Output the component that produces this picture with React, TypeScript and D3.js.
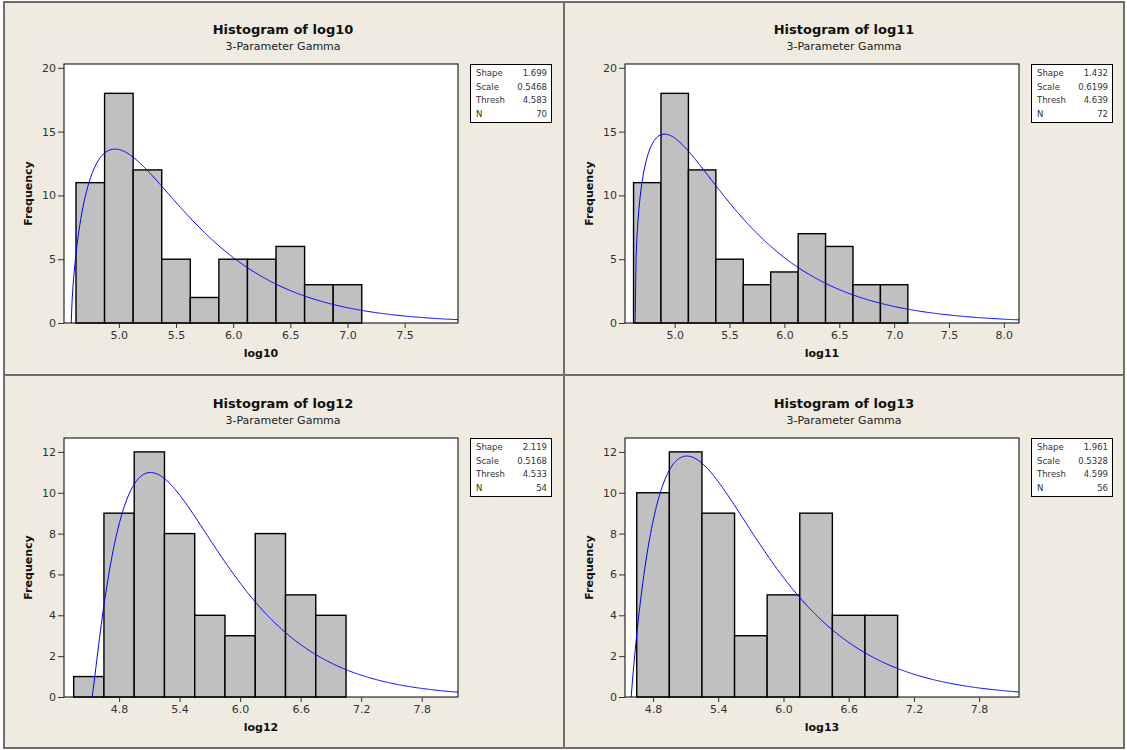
import React, { useEffect, useRef } from 'react';
import * as d3 from 'd3';

// one entry per panel, in reading order
const variables = ['log10', 'log11', 'log12', 'log13'];

const countsLog10 = [11, 18, 12, 5, 2, 5, 5, 6, 3, 3];
const countsLog11 = [11, 18, 12, 5, 3, 4, 7, 6, 3, 3];
const countsLog12 = [1, 9, 12, 8, 4, 3, 8, 5, 4];
const countsLog13 = [10, 12, 9, 3, 5, 9, 4, 4];
const counts = [countsLog10, countsLog11, countsLog12, countsLog13];

const binStart = [4.625, 4.625, 4.35, 4.65];
const binWidth = [0.25, 0.25, 0.3, 0.3];

// fitted 3-parameter gamma
const shapes = [1.699, 1.432, 2.119, 1.961];
const scales = [0.5468, 0.6199, 0.5168, 0.5328];
const threshs = [4.583, 4.639, 4.533, 4.599];
const nObs = [70, 72, 54, 56];
const shapeLabels = ['1.699', '1.432', '2.119', '1.961'];
const scaleLabels = ['0.5468', '0.6199', '0.5168', '0.5328'];
const threshLabels = ['4.583', '4.639', '4.533', '4.599'];

const xDomains: [number, number][] = [
  [4.52, 7.967],
  [4.547, 8.138],
  [4.254, 8.16],
  [4.542, 8.167],
];
const xTicks = [
  [5.0, 5.5, 6.0, 6.5, 7.0, 7.5],
  [5.0, 5.5, 6.0, 6.5, 7.0, 7.5, 8.0],
  [4.8, 5.4, 6.0, 6.6, 7.2, 7.8],
  [4.8, 5.4, 6.0, 6.6, 7.2, 7.8],
];
const yMax = [20.3, 20.3, 12.68, 12.68];
const yTicks = [
  [0, 5, 10, 15, 20],
  [0, 5, 10, 15, 20],
  [0, 2, 4, 6, 8, 10, 12],
  [0, 2, 4, 6, 8, 10, 12],
];

const W = 1127;
const H = 750;
const FONT = '"DejaVu Sans", Verdana, sans-serif';

// Lanczos approximation
function gammaFn(z: number): number {
  const p = [
    0.99999999999980993, 676.5203681218851, -1259.1392167224028, 771.32342877765313,
    -176.61502916214059, 12.507343278686905, -0.13857109526572012, 9.9843695780195716e-6,
    1.5056327351493116e-7,
  ];
  if (z < 0.5) return Math.PI / (Math.sin(Math.PI * z) * gammaFn(1 - z));
  z -= 1;
  let x = p[0];
  for (let i = 1; i < 9; i++) x += p[i] / (z + i);
  const t = z + 7.5;
  return Math.sqrt(2 * Math.PI) * Math.pow(t, z + 0.5) * Math.exp(-t) * x;
}

const App: React.FC = () => {
  const svgRef = useRef<SVGSVGElement>(null);

  useEffect(() => {
    if (!svgRef.current) return;
    const svg = d3.select(svgRef.current);
    svg.selectAll('*').remove();

    // background + panel frames
    svg.append('rect').attr('width', W).attr('height', H).attr('fill', '#fff');
    const frames = [
      [4, 2, 560, 373],
      [564, 2, 560, 373],
      [4, 375, 560, 373],
      [564, 375, 560, 373],
    ];
    frames.forEach(([x, y, w, h]) => {
      svg.append('rect')
        .attr('x', x).attr('y', y).attr('width', w).attr('height', h)
        .attr('fill', '#efebe1')
        .attr('stroke', '#6e6e6e')
        .attr('stroke-width', 2);
    });

    const origins = [[0, 0], [561, 0], [0, 374], [561, 374]];
    const left = 64, right = 458, top = 64, bottom = 323;

    variables.forEach((name, i) => {
      const [ox, oy] = origins[i];
      const g = svg.append('g').attr('transform', `translate(${ox},${oy})`);

      const x = d3.scaleLinear().domain(xDomains[i]).range([left, right]);
      const y = d3.scaleLinear().domain([0, yMax[i]]).range([bottom, top]);

      // titles
      g.append('text')
        .attr('x', 283).attr('y', 34)
        .attr('text-anchor', 'middle')
        .attr('font-family', FONT).attr('font-weight', 'bold').attr('font-size', 13)
        .attr('fill', '#111')
        .text(`Histogram of ${name}`);
      g.append('text')
        .attr('x', 283).attr('y', 50)
        .attr('text-anchor', 'middle')
        .attr('font-family', FONT).attr('font-size', 11)
        .attr('fill', '#222')
        .text('3-Parameter Gamma');

      // plot area
      g.append('rect')
        .attr('x', left).attr('y', top)
        .attr('width', right - left).attr('height', bottom - top)
        .attr('fill', '#fff');

      const clipId = `clip-${i}`;
      g.append('clipPath').attr('id', clipId)
        .append('rect')
        .attr('x', left).attr('y', top)
        .attr('width', right - left).attr('height', bottom - top);

      // bars
      const w = binWidth[i];
      g.append('g')
        .selectAll('rect')
        .data(counts[i])
        .join('rect')
        .attr('x', (_, j) => x(binStart[i] + j * w))
        .attr('y', (d) => y(d))
        .attr('width', (_, j) => x(binStart[i] + (j + 1) * w) - x(binStart[i] + j * w))
        .attr('height', (d) => y(0) - y(d))
        .attr('fill', '#c0c0c0')
        .attr('stroke', '#000')
        .attr('stroke-width', 1.4);

      // fitted gamma density, scaled to counts
      const k = shapes[i], s = scales[i], th = threshs[i];
      const norm = nObs[i] * w / (gammaFn(k) * Math.pow(s, k));
      const xs = d3.range(0, 401).map((j) => th + ((xDomains[i][1] - th) * j) / 400);
      const line = d3.line<number>()
        .x((v) => x(v))
        .y((v) => {
          const z = v - th;
          const f = z <= 0 ? 0 : norm * Math.pow(z, k - 1) * Math.exp(-z / s);
          return y(f);
        });
      g.append('path')
        .datum(xs)
        .attr('d', line)
        .attr('fill', 'none')
        .attr('stroke', '#0000ff')
        .attr('stroke-width', 1)
        .attr('clip-path', `url(#${clipId})`);

      // frame
      g.append('rect')
        .attr('x', left).attr('y', top)
        .attr('width', right - left).attr('height', bottom - top)
        .attr('fill', 'none')
        .attr('stroke', '#000')
        .attr('stroke-width', 1);

      // y axis
      const yAxis = g.append('g')
        .attr('transform', `translate(${left},0)`)
        .call(d3.axisLeft(y).tickValues(yTicks[i]).tickSize(6).tickPadding(2).tickFormat(d3.format('d')));
      yAxis.select('.domain').remove();

      // x axis
      const xAxis = g.append('g')
        .attr('transform', `translate(0,${bottom})`)
        .call(d3.axisBottom(x).tickValues(xTicks[i]).tickSize(5).tickPadding(3).tickFormat(d3.format('.1f')));
      xAxis.select('.domain').remove();

      [yAxis, xAxis].forEach((ax) => {
        ax.selectAll('line').attr('stroke', '#333');
        ax.selectAll('text')
          .attr('font-family', FONT).attr('font-size', 11).attr('fill', '#333');
      });

      // axis titles
      g.append('text')
        .attr('transform', `translate(32,${(top + bottom) / 2}) rotate(-90)`)
        .attr('text-anchor', 'middle')
        .attr('font-family', FONT).attr('font-weight', 'bold').attr('font-size', 11)
        .attr('fill', '#111')
        .text('Frequency');
      g.append('text')
        .attr('x', (left + right) / 2).attr('y', 357)
        .attr('text-anchor', 'middle')
        .attr('font-family', FONT).attr('font-weight', 'bold').attr('font-size', 11)
        .attr('fill', '#111')
        .text(name);

      // parameter box
      const rows = [
        ['Shape', shapeLabels[i]],
        ['Scale', scaleLabels[i]],
        ['Thresh', threshLabels[i]],
        ['N', String(nObs[i])],
      ];
      g.append('rect')
        .attr('x', 470.5).attr('y', 64.5).attr('width', 81).attr('height', 58)
        .attr('fill', '#fff')
        .attr('stroke', '#000')
        .attr('stroke-width', 1);
      rows.forEach(([label, val], r) => {
        g.append('text')
          .attr('x', 476).attr('y', 76 + r * 13.7)
          .attr('font-family', FONT).attr('font-size', 8.5).attr('fill', '#333')
          .text(label);
        g.append('text')
          .attr('x', 547).attr('y', 76 + r * 13.7)
          .attr('text-anchor', 'end')
          .attr('font-family', FONT).attr('font-size', 8.5).attr('fill', '#333')
          .text(val);
      });
    });
  }, []);

  return (
    <svg
      ref={svgRef}
      width={W}
      height={H}
      style={{ position: 'absolute', left: 0, top: 0, display: 'block' }}
    />
  );
};

export default App;
